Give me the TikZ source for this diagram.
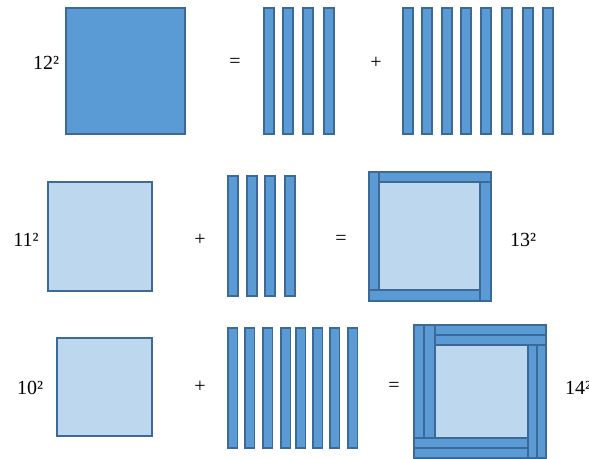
\documentclass[tikz,border=0pt]{standalone}
\usepackage{fontspec}
\setmainfont{Liberation Serif}
\usetikzlibrary{positioning}
\definecolor{tilefill}{RGB}{91,155,213}
\definecolor{tileedge}{RGB}{61,106,148}
\definecolor{palefill}{RGB}{189,215,238}
\tikzset{
  tile/.style={draw=tileedge,line width=1.5pt,fill=tilefill,inner sep=0pt,anchor=north west},
  pale/.style={tile,fill=palefill},
  lbl/.style={font=\fontsize{20}{22}\selectfont,inner sep=0pt}
}

\begin{document}
\begin{tikzpicture}[x=1pt,y=-1pt]
\useasboundingbox (0,0) rectangle (589,458);
\clip (0,0) rectangle (589,458);
% row 1: 12^2 = 4 strips + 8 strips
\node[lbl] (l12) at (46,63) {12²};
\node[tile,minimum width=119pt,minimum height=126pt] (sq12) at (65,7) {};
\node[lbl] (eqa) at (235,63) {=};
\foreach \x [count=\i] in {263,282,302,323}
  \node[tile,minimum width=10pt,minimum height=126pt] (a\i) at (\x,7) {};
\node[lbl] (plusa) at (376,63) {+};
\foreach \x [count=\i] in {402,421,441,460,480,501,522,542}
  \node[tile,minimum width=10pt,minimum height=126pt] (b\i) at (\x,7) {};
% row 2: 11^2 + 4 strips = 13^2
\node[lbl] (l11) at (26,240) {11²};
\node[pale,minimum width=104pt,minimum height=109pt] (sq11) at (47,181) {};
\node[lbl] (plusb) at (200,240) {+};
\foreach \x [count=\i] in {227,246,264,284}
  \node[tile,minimum width=10pt,minimum height=120pt] (c\i) at (\x,175) {};
\node[lbl] (eqb) at (341,240) {=};
\node[pale,minimum width=101pt,minimum height=108pt] (in13) at (378,181) {};
\node[tile,minimum width=10pt,minimum height=118pt] (w13) at (368,171) {};
\node[tile,minimum width=112pt,minimum height=10pt] (n13) at (378,171) {};
\node[tile,minimum width=11pt,minimum height=119pt] (e13) at (479,181) {};
\node[tile,minimum width=111pt,minimum height=11pt] (s13) at (368,289) {};
\node[lbl] (l13) at (523,240) {13²};
% row 3: 10^2 + 8 strips = 14^2
\node[lbl] (l10) at (30,388) {10²};
\node[pale,minimum width=95pt,minimum height=98pt] (sq10) at (56,337) {};
\node[lbl] (plusc) at (200,387) {+};
\foreach \x [count=\i] in {227,244,262,280,295,312,329,347}
  \node[tile,minimum width=9.5pt,minimum height=120pt] (d\i) at (\x,327) {};
\node[lbl] (eqc) at (394,387) {=};
\node[pale,minimum width=93pt,minimum height=93pt] (in14) at (434,344) {};
\node[tile,minimum width=10pt,minimum height=113pt] (wa14) at (413,324) {};
\node[tile,minimum width=11pt,minimum height=113pt] (wb14) at (423,324) {};
\node[tile,minimum width=111pt,minimum height=10pt] (na14) at (434,324) {};
\node[tile,minimum width=111pt,minimum height=10pt] (nb14) at (434,334) {};
\node[tile,minimum width=9pt,minimum height=113pt] (ea14) at (527,344) {};
\node[tile,minimum width=9pt,minimum height=113pt] (eb14) at (536,344) {};
\node[tile,minimum width=114pt,minimum height=10pt] (sa14) at (413,437) {};
\node[tile,minimum width=114pt,minimum height=10pt] (sb14) at (413,447) {};
\node[lbl,anchor=west] (l14) at (565,388) {14²};
\end{tikzpicture}
\end{document}
